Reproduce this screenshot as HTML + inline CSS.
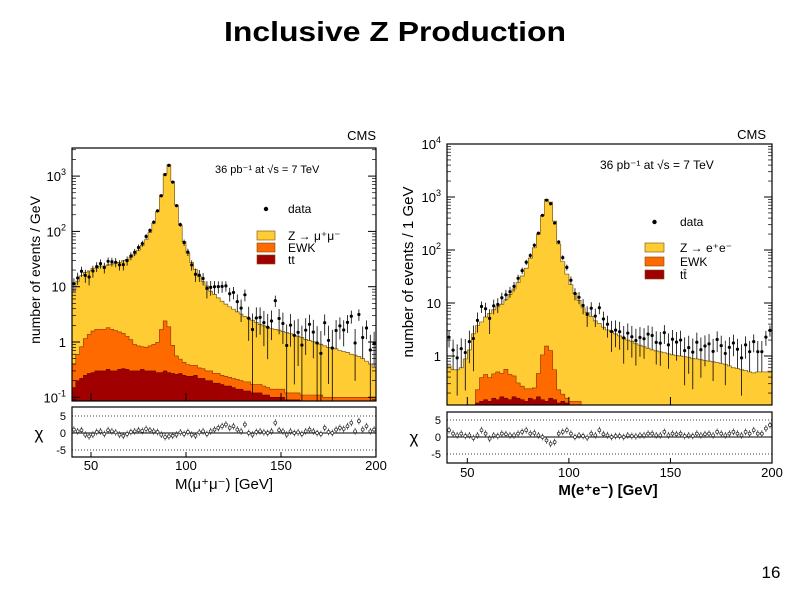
<!DOCTYPE html>
<html><head><meta charset="utf-8"><style>
html,body{margin:0;padding:0;background:#fff;}
svg{display:block;font-family:"Liberation Sans",Arial,sans-serif;}
</style></head><body>
<svg id="s" width="794" height="595" viewBox="0 0 794 595">
<rect width="794" height="595" fill="#fff"/>
<text x="395" y="41" text-anchor="middle" font-size="28" font-weight="bold" textLength="342" lengthAdjust="spacingAndGlyphs">Inclusive Z Production</text>
<text x="771" y="578" text-anchor="middle" font-size="17">16</text>
<g id="left"></g>
<g id="right"></g>
</svg>
<script>
// bin centers: 41,43,...,199 (2 GeV bins)
const massLo = 40, massHi = 200, binW = 2;
const xTicks = [50, 100, 150, 200];
const chiTicks = [5, 0, -5];

const muZ = [8,12,15,17,18,20,20,22,22,23,24,25,26,28,30,33,38,45,55,70,95,140,230,450,1100,1600,800,300,130,65,40,27,20,15,12,10,8,7,6,5.2,4.6,4.1,3.7,3.3,3.0,2.7,2.5,2.3,2.1,1.9,1.8,1.7,1.6,1.55,1.5,1.4,1.35,1.3,1.2,1.15,1.1,1.0,0.95,0.9,0.85,0.8,0.75,0.7,0.68,0.65,0.6,0.57,0.55,0.5,0.48,0.45,0.4,0.35,0.3,0.25];
const muEWK = [0.25,0.4,0.6,0.9,1.1,1.3,1.4,1.4,1.4,1.5,1.4,1.3,1.2,1.1,0.95,0.8,0.6,0.55,0.5,0.5,0.55,0.6,0.7,1.4,2.1,1.6,0.6,0.3,0.22,0.18,0.15,0.14,0.13,0.12,0.11,0.1,0.1,0.09,0.09,0.08,0.08,0.07,0.07,0.07,0.06,0.06,0.06,0.05,0.05,0.05,0.05,0.04,0.04,0.04,0.04,0.04,0.03,0.03,0.03,0.03,0.03,0.03,0.03,0.03,0.03,0.03,0.03,0.03,0.03,0.03,0.03,0.03,0.03,0.03,0.03,0.03,0.03,0.03,0.03,0.03];
const muTT = [0.15,0.2,0.22,0.25,0.27,0.28,0.3,0.3,0.3,0.32,0.3,0.3,0.32,0.33,0.32,0.3,0.3,0.3,0.32,0.3,0.3,0.3,0.28,0.28,0.3,0.28,0.27,0.26,0.27,0.25,0.24,0.24,0.25,0.22,0.22,0.2,0.2,0.18,0.18,0.17,0.16,0.16,0.15,0.14,0.14,0.13,0.13,0.12,0.12,0.12,0.11,0.11,0.1,0.1,0.1,0.1,0.09,0.09,0.09,0.09,0.08,0.08,0.08,0.08,0.08,0.08,0.07,0.07,0.07,0.07,0.07,0.07,0.07,0.07,0.07,0.07,0.07,0.07,0.07,0.07];
const muChi = [1,0.5,0.8,-0.5,-1,-0.5,0.3,0.5,-0.3,0.8,0.5,0.2,-0.5,-0.8,-0.3,0.3,0.5,0.8,0.6,1.2,0.8,0.5,0.3,-0.5,-1.2,-1,-0.8,-0.5,0.2,-0.3,0.3,-0.5,-0.8,0.2,0.5,-0.3,0.5,1,1.5,2,2.5,1.5,2,1,0.5,2.5,0,-0.5,0.3,0.5,0.2,0,0.5,3,0.8,0.5,-0.5,0.5,0,0.2,-0.3,0.5,1,0.5,0,-0.3,1.5,0.3,0,1,1.5,1.2,2,3,0.5,3.5,1,2,0.5,1];

const eZ = [0.6,0.5,0.5,0.55,0.8,1.2,2.5,3.5,4,5,6,7,8,9,11,14,18,24,32,45,70,110,200,450,900,800,350,130,60,35,22,15,11,8,6.5,5.5,4.5,4,3.4,3,2.8,2.5,2.3,2.1,1.9,1.8,1.6,1.5,1.4,1.3,1.2,1.15,1.1,1.05,1.0,0.95,0.92,0.9,0.87,0.85,0.8,0.78,0.75,0.72,0.7,0.68,0.65,0.62,0.6,0.55,0.5,0.48,0.45,0.43,0.4,0.38,0.4,0.4,0.4,0.42];
const eEWK = [0,0,0,0,0,0,0,0.1,0.25,0.3,0.25,0.3,0.35,0.3,0.4,0.3,0.25,0.15,0.12,0.1,0.08,0.1,0.3,0.9,1.4,1.1,0.4,0.1,0.05,0.03,0.02,0.02,0.02,0.01,0.01,0.01,0,0,0,0,0,0,0,0,0,0,0,0,0,0,0,0,0,0,0,0,0,0,0,0,0,0,0,0,0,0,0,0,0,0,0,0,0,0,0,0,0,0,0,0];
const eTT = [0.05,0.05,0.05,0.05,0.08,0.1,0.12,0.13,0.14,0.15,0.14,0.16,0.15,0.17,0.16,0.15,0.17,0.16,0.15,0.14,0.16,0.15,0.17,0.15,0.14,0.16,0.15,0.13,0.14,0.13,0.12,0.12,0.12,0.11,0.11,0.1,0.1,0.1,0.1,0.1,0.1,0.1,0.1,0.1,0.1,0.1,0.1,0.1,0.1,0.1,0.1,0.1,0.1,0.1,0.1,0.1,0.1,0.1,0.1,0.1,0.1,0.1,0.1,0.1,0.1,0.1,0.1,0.1,0.1,0.1,0.1,0.1,0.1,0.1,0.1,0.1,0.1,0.1,0.1,0.1];
const eChi = [2,1,0.5,1,0.3,0.5,-0.3,0.5,2,1,-0.5,0.5,0.3,1,0.8,0.5,0.5,1,1.5,2,1,1.2,0.5,0,-1,-2,-1.5,1,1.5,2,1,0,0.5,0.3,-0.2,1,0.5,2,0.8,0.5,0,0.3,0.3,0,0.5,0.3,0.2,0.5,0.5,1,1,0.5,0.5,1.5,0.5,1,0.8,1,0.3,0.5,0.3,1,0.5,0.8,1,0.5,1.5,1,0.5,1,1.5,1,0.5,1.5,1,2,1,1,2.5,3.5];

const NS = "http://www.w3.org/2000/svg";
function mk(parent, tag, attrs){const e=document.createElementNS(NS,tag);for(const k in attrs)e.setAttribute(k,attrs[k]);parent.appendChild(e);return e;}

function drawPlot(g, cfg, z, ewk, tt, chi){
  const X = m => cfg.x0 + (m - massLo)/(massHi-massLo)*(cfg.x1-cfg.x0);
  const Y = v => cfg.yDec0 - (Math.log10(Math.max(v,1e-4)))*cfg.pxDec; // yDec0 = y of value 1
  const C = c => cfg.c0 - c*cfg.cPx;
  const cid = 'clip'+cfg.id;
  const defs = mk(g,'defs',{});
  const cp = mk(defs,'clipPath',{id:cid});
  mk(cp,'rect',{x:cfg.x0,y:cfg.yTop,width:cfg.x1-cfg.x0,height:cfg.yBot-cfg.yTop});
  const plot = mk(g,'g',{'clip-path':'url(#'+cid+')'});
  function step(vals){
    let d='M'+X(massLo)+','+(cfg.yBot+5);
    vals.forEach((v,i)=>{const a=massLo+i*binW;d+=' L'+X(a)+','+Y(v)+' L'+X(a+binW)+','+Y(v);});
    d+=' L'+X(massHi)+','+(cfg.yBot+5)+' Z';return d;
  }
  const stTT = tt.slice(), stE = tt.map((v,i)=>v+ewk[i]), stZ = stE.map((v,i)=>v+z[i]);
  const pz = mk(plot,'path',{d:step(stZ),fill:'#ffcc33',stroke:'#7a5a10','stroke-width':0.7});
  
  
  const pe = mk(plot,'path',{d:step(stE),fill:'#ff6a00',stroke:'#8a3000','stroke-width':0.6});
  
  
  const pt = mk(plot,'path',{d:step(stTT),fill:'#a00000',stroke:'#500000','stroke-width':0.5});
  
  
  // data points
  const pts = mk(plot,'g',{});
  
  
  stZ.forEach((m,i)=>{
    const err=Math.sqrt(m), val=m+chi[i]*err, cx=X(massLo+(i+0.5)*binW);
    const lo=Math.max(val-err,1e-3);
    mk(pts,'line',{x1:cx,x2:cx,y1:Y(val+err),y2:Y(lo),stroke:'#000','stroke-width':0.8});
    const c=mk(pts,'circle',{cx:cx,cy:Y(val),r:1.6,fill:'#000'});
    
    
  });
  const fr = mk(g,'rect',{x:cfg.x0,y:cfg.yTop,width:cfg.x1-cfg.x0,height:cfg.yBot-cfg.yTop,fill:'none',stroke:'#000','stroke-width':1.2});
  
  
  // y ticks
  cfg.yTicks.forEach(t=>{
    const y=Y(Math.pow(10,t.e));
    mk(g,'line',{x1:cfg.x0,x2:cfg.x0+8,y1:y,y2:y,stroke:'#000'});
    mk(g,'line',{x1:cfg.x1,x2:cfg.x1-8,y1:y,y2:y,stroke:'#000'});
    const tx=mk(g,'text',{x:cfg.x0-6,y:y+5,'text-anchor':'end','font-size':13});
    
    
    if(t.sup!==null){tx.textContent='10';const s=mk(tx,'tspan',{dy:-6,'font-size':9});s.textContent=t.sup;}
    else tx.textContent=t.lab;
  });
  // minor ticks
  for(let e=-2;e<5;e++)for(let k=2;k<10;k++){const y=Y(k*Math.pow(10,e));if(y>cfg.yTop&&y<cfg.yBot){mk(g,'line',{x1:cfg.x0,x2:cfg.x0+4,y1:y,y2:y,stroke:'#000','stroke-width':0.7});mk(g,'line',{x1:cfg.x1,x2:cfg.x1-4,y1:y,y2:y,stroke:'#000','stroke-width':0.7});}}
  // chi pane
  const cf = mk(g,'rect',{x:cfg.x0,y:cfg.cTop,width:cfg.x1-cfg.x0,height:cfg.cBot-cfg.cTop,fill:'#fff',stroke:'#000','stroke-width':1.2});
  
  
  chiTicks.forEach(c=>{
    mk(g,'line',{x1:cfg.x0,x2:cfg.x1,y1:C(c),y2:C(c),stroke:'#000','stroke-width':c===0?1:0.7,'stroke-dasharray':c===0?'':'1,2'});
    const tx=mk(g,'text',{x:cfg.x0-6,y:C(c)+4,'text-anchor':'end','font-size':11});
    
    
    tx.textContent=String(c);
  });
  const cg = mk(g,'g',{});
  
  
  chi.forEach((c,i)=>{
    const cx=X(massLo+(i+0.5)*binW);
    mk(cg,'line',{x1:cx,x2:cx,y1:C(c+1),y2:C(c-1),stroke:'#222','stroke-width':0.7});
    mk(cg,'circle',{cx:cx,cy:C(c),r:1.5,fill:'#fff',stroke:'#222','stroke-width':0.7});
  });
  const chiLab = mk(g,'text',{x:cfg.x0-33,y:cfg.c0+6,'font-size':17,'text-anchor':'middle'});
  
  
  chiLab.textContent='χ';
  // x ticks
  xTicks.forEach(m=>{
    const x=X(m);
    mk(g,'line',{x1:x,x2:x,y1:cfg.yBot,y2:cfg.yBot-8,stroke:'#000'});
    mk(g,'line',{x1:x,x2:x,y1:cfg.cBot,y2:cfg.cBot-5,stroke:'#000'});
    const tx=mk(g,'text',{x:x,y:cfg.xLabY,'text-anchor':'middle','font-size':13});
    
    
    tx.textContent=String(m);
  });
}

const L=document.getElementById('left'), R=document.getElementById('right');
drawPlot(L,{id:'L',x0:72,x1:376,yTop:148,yBot:401,yDec0:342,pxDec:55.3,cTop:407,cBot:457,c0:433,cPx:3.4,xLabY:470,
  yTicks:[{e:3,sup:'3'},{e:2,sup:'2'},{e:1,sup:null,lab:'10'},{e:0,sup:null,lab:'1'},{e:-1,sup:'-1'}]},muZ,muEWK,muTT,muChi);
drawPlot(R,{id:'R',x0:447,x1:772,yTop:144,yBot:405,yDec0:356,pxDec:53,cTop:412,cBot:463,c0:437,cPx:3.4,xLabY:477,
  yTicks:[{e:4,sup:'4'},{e:3,sup:'3'},{e:2,sup:'2'},{e:1,sup:null,lab:'10'},{e:0,sup:null,lab:'1'}]},eZ,eEWK,eTT,eChi);
</script>
<g></g>
<svg width="0" height="0"></svg>
<script>
const s=document.getElementById('s');
function T(x,y,txt,size,name,extra){const e=document.createElementNS(NS,'text');e.setAttribute('x',x);e.setAttribute('y',y);e.setAttribute('font-size',size);if(extra)for(const k in extra)e.setAttribute(k,extra[k]);e.textContent=txt;s.appendChild(e);return e;}
let t;
t=T(376,140,'CMS',13,'',{'text-anchor':'end'});


t=T(766,139,'CMS',13,'',{'text-anchor':'end'});


t=T(215,173,'36 pb⁻¹  at √s = 7 TeV',11,'');


t=T(600,169,'36 pb⁻¹  at √s = 7 TeV',12,'');


t=T(40,270,'number of events / GeV',14,'',{'text-anchor':'middle',transform:'rotate(-90 40 270)'});


t=T(413,272,'number of events / 1 GeV',15,'',{'text-anchor':'middle',transform:'rotate(-90 413 272)'});


t=T(224,489,'M(μ⁺μ⁻)    [GeV]',15,'',{'text-anchor':'middle'});


t=T(608,495,'M(e⁺e⁻) [GeV]',15,'',{'text-anchor':'middle','font-weight':'bold'});


function legend(x,dotY,rowY,box,labels,fs,tx){
  const g=document.createElementNS(NS,'g');s.appendChild(g);
  
  
  const c=document.createElementNS(NS,'circle');c.setAttribute('cx',x+box/2);c.setAttribute('cy',dotY);c.setAttribute('r',2.2);g.appendChild(c);
  const d=document.createElementNS(NS,'text');d.setAttribute('x',tx);d.setAttribute('y',dotY+4);d.setAttribute('font-size',fs);d.textContent='data';g.appendChild(d);
  const cols=['#ffcc33','#ff6a00','#a00000'];
  labels.forEach((l,i)=>{
    const r=document.createElementNS(NS,'rect');r.setAttribute('x',x);r.setAttribute('y',rowY[i]);r.setAttribute('width',box);r.setAttribute('height',9);r.setAttribute('fill',cols[i]);r.setAttribute('stroke','#7a4a10');r.setAttribute('stroke-width',0.6);g.appendChild(r);
    const e=document.createElementNS(NS,'text');e.setAttribute('x',tx);e.setAttribute('y',rowY[i]+9);e.setAttribute('font-size',fs);e.textContent=l;g.appendChild(e);
  });
}
legend(257,209,[231,243,255],18,['Z → μ⁺μ⁻','EWK','tt'],12,288);
legend(645,222,[243,257,270],19,['Z → e⁺e⁻','EWK','tt̄'],12,680);
</script>
</body></html>
